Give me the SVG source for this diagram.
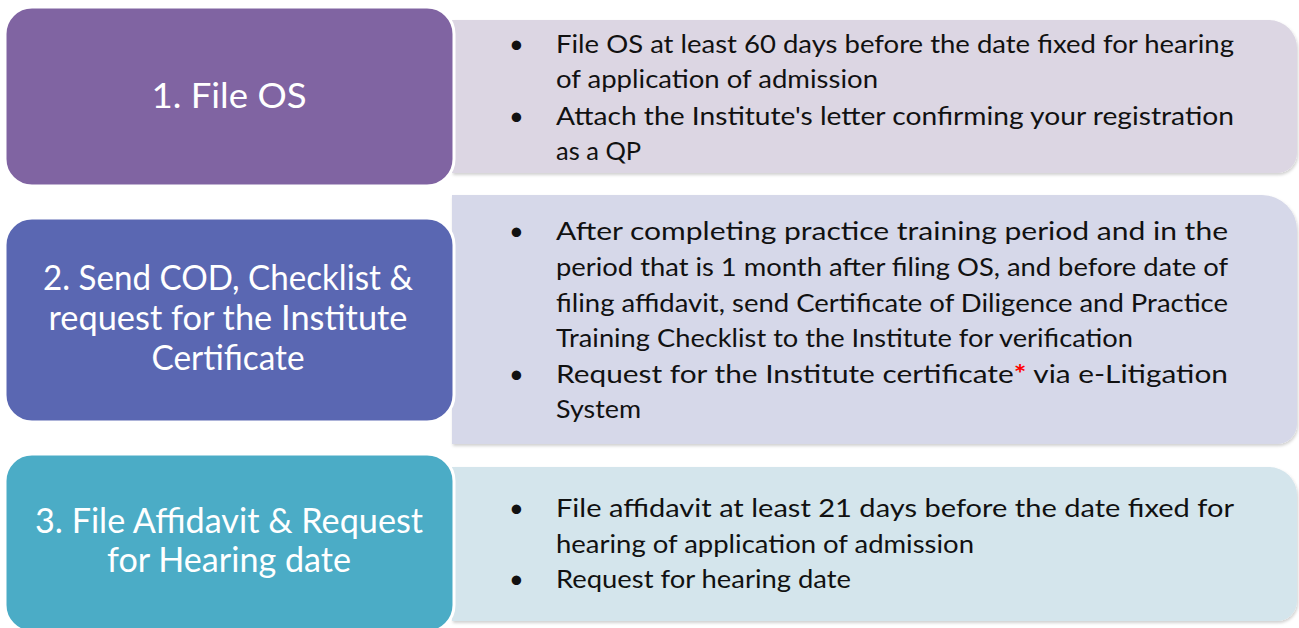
<svg xmlns="http://www.w3.org/2000/svg" width="1299" height="628" viewBox="0 0 1299 628">
<style>
.box{stroke:#ffffff;stroke-width:3}
.lbl{font-family:Lato,"Open Sans","Liberation Sans",sans-serif;font-size:34px;fill:#ffffff;text-anchor:middle}
.txt{font-family:Lato,"Open Sans","Liberation Sans",sans-serif;font-size:25.5px;fill:#111111}
.ast{fill:#ff0000;font-weight:bold}
.panel{filter:url(#sh)}
</style>
<defs>
<filter id="sh" x="-5%" y="-10%" width="110%" height="125%">
<feDropShadow dx="1" dy="2" stdDeviation="1.5" flood-color="#000000" flood-opacity="0.18"/>
</filter>
</defs>
<rect width="1299" height="628" fill="#ffffff"/>

<g id="panel1">
<path class="panel" d="M452 20 H1269 A28 28 0 0 1 1297 48 V153 A20 20 0 0 1 1277 173 H452 Z" fill="#DCD6E3"/>
<text class="txt" x="509" y="53">•</text>
<text class="txt" x="556" y="53" textLength="678" lengthAdjust="spacingAndGlyphs">File OS at least 60 days before the date fixed for hearing</text>
<text class="txt" x="556" y="88" textLength="322" lengthAdjust="spacingAndGlyphs">of application of admission</text>
<text class="txt" x="509" y="125">•</text>
<text class="txt" x="556" y="125" textLength="678" lengthAdjust="spacingAndGlyphs">Attach the Institute's letter confirming your registration</text>
<text class="txt" x="556" y="160">as a QP</text>
</g>

<g id="panel2">
<path class="panel" d="M452 195 H1262 A35 35 0 0 1 1297 230 V424 A20 20 0 0 1 1277 444 H452 Z" fill="#D6D8E9"/>
<text class="txt" x="509" y="240">•</text>
<text class="txt" x="556" y="240" textLength="672" lengthAdjust="spacingAndGlyphs">After completing practice training period and in the</text>
<text class="txt" x="556" y="276" textLength="672" lengthAdjust="spacingAndGlyphs">period that is 1 month after filing OS, and before date of</text>
<text class="txt" x="556" y="312" textLength="672" lengthAdjust="spacingAndGlyphs">filing affidavit, send Certificate of Diligence and Practice</text>
<text class="txt" x="556" y="347" textLength="577" lengthAdjust="spacingAndGlyphs">Training Checklist to the Institute for verification</text>
<text class="txt" x="509" y="383">•</text>
<text class="txt" x="556" y="383" textLength="672" lengthAdjust="spacingAndGlyphs">Request for the Institute certificate<tspan class="ast">*</tspan> via e-Litigation</text>
<text class="txt" x="556" y="418" textLength="85" lengthAdjust="spacingAndGlyphs">System</text>
</g>

<g id="panel3">
<path class="panel" d="M452 467 H1269 A28 28 0 0 1 1297 495 V601 A20 20 0 0 1 1277 621 H452 Z" fill="#D4E5EC"/>
<text class="txt" x="509" y="517">•</text>
<text class="txt" x="556" y="517" textLength="678" lengthAdjust="spacingAndGlyphs">File affidavit at least 21 days before the date fixed for</text>
<text class="txt" x="556" y="553" textLength="418" lengthAdjust="spacingAndGlyphs">hearing of application of admission</text>
<text class="txt" x="509" y="588">•</text>
<text class="txt" x="556" y="588" textLength="295" lengthAdjust="spacingAndGlyphs">Request for hearing date</text>
</g>

<g id="box1">
<rect class="box" x="5" y="7" width="449" height="179" rx="27" fill="#8064A2"/>
<text class="lbl" x="229" y="108" textLength="155" lengthAdjust="spacingAndGlyphs">1. File OS</text>
</g>

<g id="box2">
<rect class="box" x="5" y="218" width="449" height="204" rx="27" fill="#5A67B2"/>
<text class="lbl" x="228" y="290" textLength="370" lengthAdjust="spacingAndGlyphs">2. Send COD, Checklist &amp;</text>
<text class="lbl" x="228" y="330" textLength="359" lengthAdjust="spacingAndGlyphs">request for the Institute</text>
<text class="lbl" x="228" y="370" textLength="153" lengthAdjust="spacingAndGlyphs">Certificate</text>
</g>

<g id="box3">
<rect class="box" x="5" y="454" width="449" height="178" rx="27" fill="#4BACC6"/>
<text class="lbl" x="229" y="533" textLength="388" lengthAdjust="spacingAndGlyphs">3. File Affidavit &amp; Request</text>
<text class="lbl" x="229" y="572" textLength="244" lengthAdjust="spacingAndGlyphs">for Hearing date</text>
</g>

<g id="connectors"></g>
</svg>
